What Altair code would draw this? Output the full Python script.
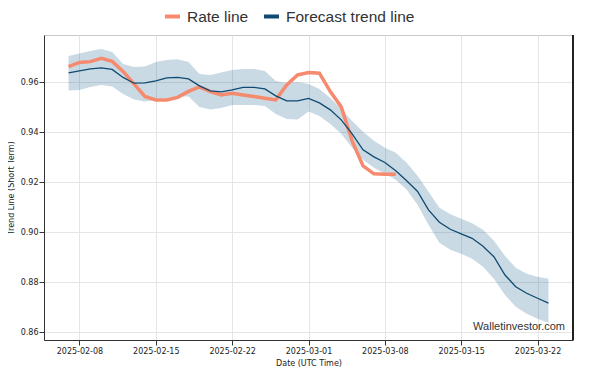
import altair as alt
import pandas as pd

dates = pd.date_range("2025-02-07", "2025-03-23", freq="D").strftime("%Y-%m-%d").tolist()

trend = [0.96372, 0.96452, 0.96532, 0.96572, 0.96512, 0.96192, 0.9596, 0.95972, 0.96052, 0.96172,
         0.96192, 0.96132, 0.95852, 0.95652, 0.95612, 0.95692, 0.95792, 0.95792, 0.95732, 0.95452,
         0.95252, 0.95252, 0.95352, 0.95172, 0.94892, 0.94492, 0.93932, 0.93292, 0.93012, 0.92784,
         0.92452, 0.92052, 0.91624, 0.90892, 0.90392, 0.90112, 0.89932, 0.89752, 0.89432, 0.89012,
         0.88292, 0.87812, 0.87552, 0.87352, 0.8716]

upper = [0.97052, 0.97152, 0.97252, 0.97332, 0.97212, 0.96732, 0.96612, 0.96632, 0.96812, 0.96892,
         0.9692, 0.96812, 0.96332, 0.96292, 0.96392, 0.96492, 0.96532, 0.96532, 0.96452, 0.96052,
         0.95972, 0.96012, 0.95932, 0.95732, 0.95372, 0.94932, 0.94452, 0.94012, 0.93652, 0.93372,
         0.93172, 0.92772, 0.92252, 0.91612, 0.90972, 0.90712, 0.90532, 0.90352, 0.90092, 0.89652,
         0.89052, 0.88572, 0.88332, 0.88212, 0.88132]

lower = [0.95664, 0.95692, 0.95812, 0.95892, 0.95832, 0.95532, 0.95312, 0.95232, 0.95292, 0.95372,
         0.95424, 0.95424, 0.95012, 0.94912, 0.94972, 0.95092, 0.95092, 0.95092, 0.95052, 0.94732,
         0.94532, 0.94512, 0.94824, 0.94652, 0.94332, 0.93932, 0.93372, 0.92892, 0.92572, 0.92332,
         0.92092, 0.91692, 0.91092, 0.90292, 0.89572, 0.89292, 0.89132, 0.88932, 0.88612, 0.88132,
         0.87492, 0.87012, 0.86732, 0.86532, 0.86372]

rate = [0.96624, 0.96792, 0.96824, 0.96952, 0.96832, 0.96432, 0.95932, 0.95432, 0.95292, 0.95292,
        0.95392, 0.95632, 0.95812, 0.95624, 0.95492, 0.9556, 0.95492, 0.95424, 0.9536, 0.95292,
        0.95892, 0.96292, 0.96384, 0.9636, 0.95624, 0.95012, 0.93652, 0.92652, 0.92332, 0.9232,
        0.9232]

tick_dates = ["2025-02-08", "2025-02-15", "2025-02-22", "2025-03-01", "2025-03-08", "2025-03-15", "2025-03-22"]
y_ticks = [0.86, 0.88, 0.90, 0.92, 0.94, 0.96]
series_names = ["Rate line", "Forecast trend line"]
series_colors = ["#f58a6e", "#0e4a72"]

band_df = pd.DataFrame({"date": dates, "upper": upper, "lower": lower})
trend_df = pd.DataFrame({"date": dates, "value": trend, "series": series_names[1]})
rate_df = pd.DataFrame({"date": dates[:len(rate)], "value": rate, "series": series_names[0]})

W, H = 529, 305

def dt(s, h=0):
    y, m, d = map(int, s.split("-"))
    return alt.DateTime(year=y, month=m, date=d, hours=h, utc=True)

x_scale = alt.Scale(type="utc", domain=[dt("2025-02-04", 18), dt("2025-03-25", 6)])
y_scale = alt.Scale(domain=[0.8568, 0.9789], nice=False, zero=False)

x_axis = alt.Axis(values=[dt(s) for s in tick_dates], format="%Y-%m-%d", title="Date (UTC Time)",
                  labelFontSize=8, titleFontSize=8, titleFontWeight="normal", labelColor="#222",
                  titleColor="#222", tickSize=5, labelPadding=2, titlePadding=4, domainColor="#333",
                  tickColor="#333", gridColor="#e5e5e5", labelFlush=False)
y_axis = alt.Axis(values=y_ticks, format=".2f", title="Trend Line (Short Term)", labelFontSize=8,
                  titleFontSize=8, titleFontWeight="normal", labelColor="#222", titleColor="#222",
                  tickSize=5, labelPadding=1, titlePadding=5, domainColor="#333", tickColor="#333",
                  gridColor="#e5e5e5")

color = alt.Color("series:N", scale=alt.Scale(domain=series_names, range=series_colors),
                  sort=series_names,
                  legend=alt.Legend(title=None, orient="none", legendX=119, legendY=-28,
                                    direction="horizontal", symbolType="stroke", symbolSize=225,
                                    symbolStrokeWidth=4, labelFontSize=15.5, labelColor="#333",
                                    labelFont="Liberation Sans", labelOffset=5, columnPadding=7,
                                    padding=0))

band = alt.Chart(band_df).mark_area(color="#2b6a94", opacity=0.25).encode(
    x=alt.X("date:T", scale=x_scale, axis=x_axis),
    y=alt.Y("upper:Q", scale=y_scale, axis=y_axis),
    y2="lower:Q",
)

rate_line = alt.Chart(rate_df).mark_line(strokeWidth=3.5).encode(
    x="date:T", y="value:Q", color=color)

trend_line = alt.Chart(trend_df).mark_line(strokeWidth=1.3).encode(
    x="date:T", y="value:Q", color=color)

frame = alt.Chart(band_df).mark_rule(color="#222", strokeWidth=1).encode(
    x=alt.value(W), y=alt.value(0), y2=alt.value(H))

watermark = alt.Chart(pd.DataFrame({"t": ["Walletinvestor.com"]})).mark_text(
    align="right", baseline="alphabetic", fontSize=11, color="#333", font="Liberation Sans"
).encode(text="t:N", x=alt.value(W - 8), y=alt.value(H - 10))

chart = alt.layer(band, rate_line, trend_line, frame, watermark).properties(
    width=W, height=H,
    autosize=alt.AutoSizeParams(type="none"),
    padding={"left": 36, "top": 27, "right": 10, "bottom": 27},
).configure_view(stroke="#c8c8c8", strokeWidth=1).configure_axis(
    labelFont="DejaVu Sans", titleFont="DejaVu Sans")

chart.save("out.html", embed_options={"renderer": "svg", "actions": False})
